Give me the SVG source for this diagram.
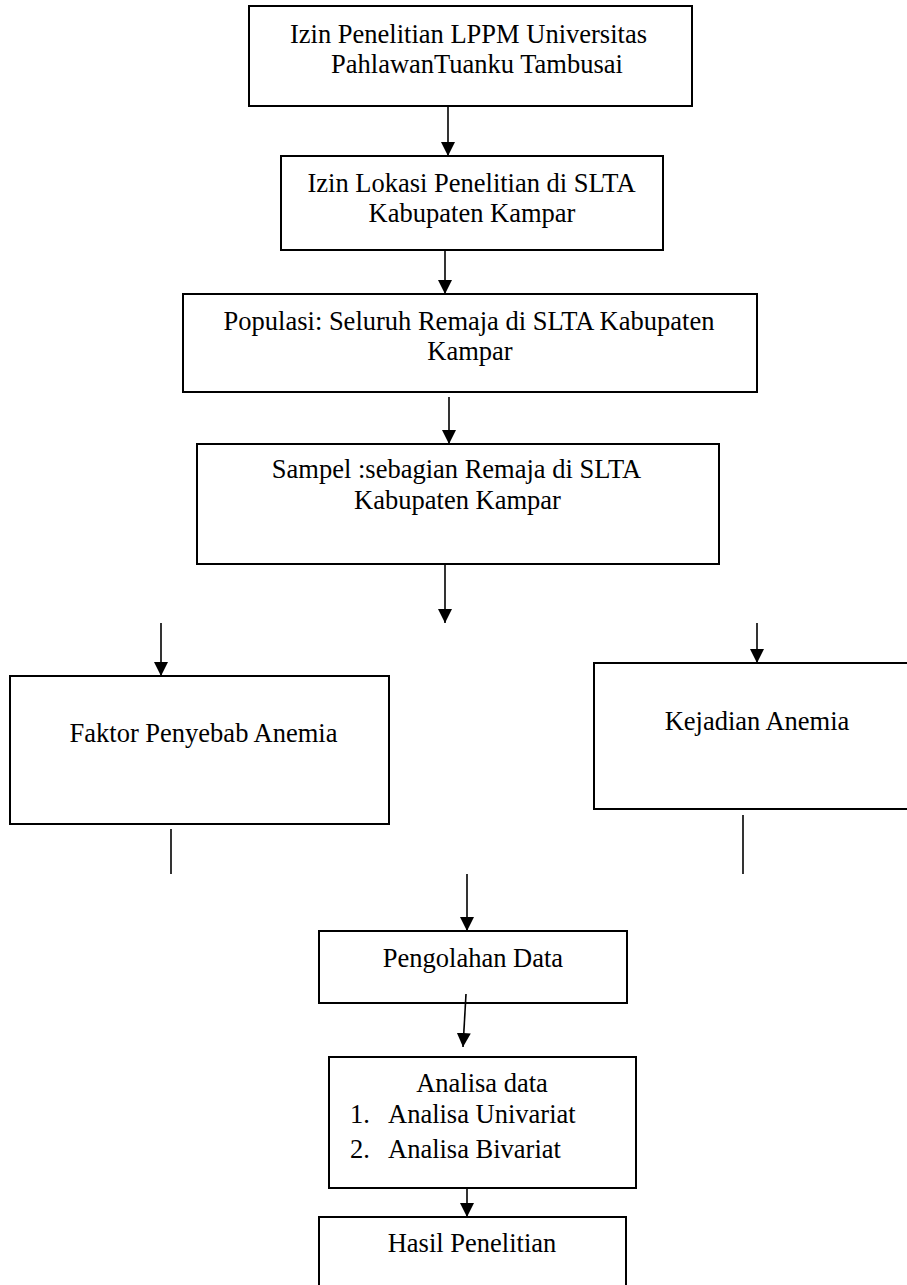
<svg xmlns="http://www.w3.org/2000/svg" width="907" height="1285" viewBox="0 0 907 1285">
<defs>
<style>
.box{fill:#fff;stroke:#000;stroke-width:2}
.t{font-family:"Liberation Serif","Times New Roman",serif;font-size:26.5px;fill:#000;text-anchor:middle}
.ts{font-family:"Liberation Serif","Times New Roman",serif;font-size:26.5px;fill:#000}
.c{stroke:#000;stroke-width:1.6;fill:none}
.ca{stroke:#000;stroke-width:1.6;fill:none;marker-end:url(#ah)}
</style>
<marker id="ah" markerUnits="userSpaceOnUse" markerWidth="14" markerHeight="14" refX="14" refY="7" orient="auto">
<path d="M0,0 L14,7 L0,14 z" fill="#000"/>
</marker>
</defs>
<rect width="907" height="1285" fill="#fff"/>
<g id="node-izin-lppm">
<rect class="box" x="249" y="6" width="443" height="100"/>
<text class="t" x="468.5" y="43">Izin Penelitian LPPM Universitas</text>
<text class="t" x="477" y="73">PahlawanTuanku Tambusai</text>
</g>
<g id="node-izin-lokasi">
<rect class="box" x="281" y="156" width="382" height="94"/>
<text class="t" x="471.5" y="192">Izin Lokasi Penelitian di SLTA</text>
<text class="t" x="472" y="222">Kabupaten Kampar</text>
</g>
<g id="node-populasi">
<rect class="box" x="183" y="294" width="574" height="98"/>
<text class="t" x="469" y="330">Populasi: Seluruh Remaja di SLTA Kabupaten</text>
<text class="t" x="470" y="360">Kampar</text>
</g>
<g id="node-sampel">
<rect class="box" x="197" y="444" width="522" height="120"/>
<text class="t" x="456.5" y="478">Sampel :sebagian Remaja di SLTA</text>
<text class="t" x="457.5" y="509">Kabupaten Kampar</text>
</g>
<g id="node-faktor">
<rect class="box" x="10" y="676" width="379" height="148"/>
<text class="t" x="203.5" y="742">Faktor Penyebab Anemia</text>
</g>
<g id="node-kejadian">
<rect class="box" x="594" y="663" width="330" height="146"/>
<text class="t" x="757" y="730">Kejadian Anemia</text>
</g>
<g id="node-pengolahan">
<rect class="box" x="319" y="931" width="308" height="72"/>
<text class="t" x="473" y="967">Pengolahan Data</text>
</g>
<g id="node-analisa">
<rect class="box" x="329" y="1057" width="307" height="131"/>
<text class="t" x="482" y="1092">Analisa data</text>
<text class="ts" x="350" y="1123">1.</text>
<text class="ts" x="388" y="1123">Analisa Univariat</text>
<text class="ts" x="350" y="1158">2.</text>
<text class="ts" x="388" y="1158">Analisa Bivariat</text>
</g>
<g id="node-hasil">
<rect class="box" x="319" y="1217" width="307" height="90"/>
<text class="t" x="472" y="1252">Hasil Penelitian</text>
</g>
<g id="connectors">
<line class="ca" x1="448" y1="106" x2="448" y2="156"/>
<line class="ca" x1="445" y1="250" x2="445" y2="294"/>
<line class="ca" x1="449" y1="397" x2="449" y2="444"/>
<line class="ca" x1="445" y1="564" x2="445" y2="623"/>
<line class="ca" x1="161" y1="623" x2="161" y2="676"/>
<line class="ca" x1="757" y1="623" x2="757" y2="663"/>
<line class="c" x1="171" y1="829" x2="171" y2="874"/>
<line class="c" x1="743" y1="815" x2="743" y2="874"/>
<line class="ca" x1="467" y1="874" x2="467" y2="931"/>
<line class="ca" x1="466" y1="994" x2="463" y2="1047"/>
<line class="ca" x1="467" y1="1188" x2="467" y2="1217"/>
</g>
</svg>
